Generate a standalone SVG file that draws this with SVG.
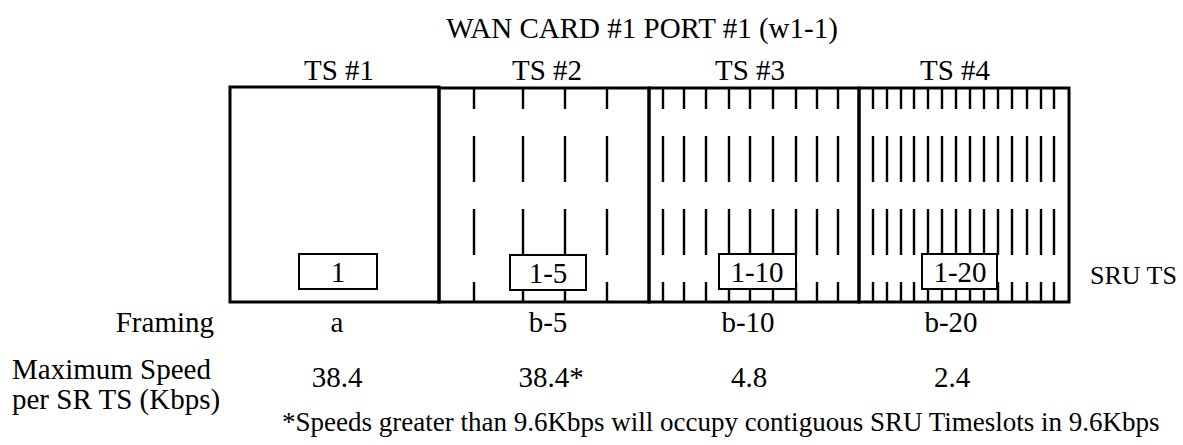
<svg xmlns="http://www.w3.org/2000/svg" width="1183" height="445" viewBox="0 0 1183 445">
<style>
text{font-family:"Liberation Serif","Times New Roman",serif;font-size:29px;fill:#000}
.c{text-anchor:middle}
.e{text-anchor:end}
.frame{fill:none;stroke:#000;stroke-width:3}
.dash{stroke:#000;stroke-width:2.4;stroke-dasharray:46 27;stroke-dashoffset:25}
.lbl{fill:#fff;stroke:#000;stroke-width:2}
</style>
<rect width="1183" height="445" fill="#fff"/>
<text id="title" class="c" x="642" y="38">WAN CARD #1 PORT #1 (w1-1)</text>

<g id="ts1">
  <text class="c" x="339" y="80">TS #1</text>
  <rect class="frame" x="230" y="87" width="209" height="215"/>
  <rect class="lbl" x="299" y="254" width="78" height="35"/>
  <text class="c" x="338" y="282">1</text>
</g>

<g id="ts2">
  <text class="c" x="547" y="80">TS #2</text>
  <g class="dash">
    <line x1="474" y1="88" x2="474" y2="302"/>
    <line x1="523" y1="88" x2="523" y2="302"/>
    <line x1="565" y1="88" x2="565" y2="302"/>
    <line x1="607" y1="88" x2="607" y2="302"/>
  </g>
  <path class="frame" d="M439,88 H649 V302 H439 Z"/>
  <rect class="lbl" x="510" y="255" width="76" height="35"/>
  <text class="c" x="548" y="283">1-5</text>
</g>

<g id="ts3">
  <text class="c" x="750" y="80">TS #3</text>
  <g class="dash">
    <line x1="663" y1="88" x2="663" y2="302"/>
    <line x1="684" y1="88" x2="684" y2="302"/>
    <line x1="706" y1="88" x2="706" y2="302"/>
    <line x1="729" y1="88" x2="729" y2="302"/>
    <line x1="750" y1="88" x2="750" y2="302"/>
    <line x1="773" y1="88" x2="773" y2="302"/>
    <line x1="796" y1="88" x2="796" y2="302"/>
    <line x1="817" y1="88" x2="817" y2="302"/>
    <line x1="838" y1="88" x2="838" y2="302"/>
  </g>
  <path class="frame" d="M649,88 H859 V302 H649 Z"/>
  <rect class="lbl" x="719" y="254" width="77" height="35"/>
  <text class="c" x="757" y="282">1-10</text>
</g>

<g id="ts4">
  <text class="c" x="955" y="80">TS #4</text>
  <g class="dash">
    <line x1="873" y1="88" x2="873" y2="302"/>
    <line x1="887" y1="88" x2="887" y2="302"/>
    <line x1="901" y1="88" x2="901" y2="302"/>
    <line x1="914" y1="88" x2="914" y2="302"/>
    <line x1="928" y1="88" x2="928" y2="302"/>
    <line x1="942" y1="88" x2="942" y2="302"/>
    <line x1="956" y1="88" x2="956" y2="302"/>
    <line x1="970" y1="88" x2="970" y2="302"/>
    <line x1="984" y1="88" x2="984" y2="302"/>
    <line x1="998" y1="88" x2="998" y2="302"/>
    <line x1="1012" y1="88" x2="1012" y2="302"/>
    <line x1="1027" y1="88" x2="1027" y2="302"/>
    <line x1="1041" y1="88" x2="1041" y2="302"/>
    <line x1="1054" y1="88" x2="1054" y2="302"/>
  </g>
  <path class="frame" d="M859,88 H1069 V302 H859 Z"/>
  <rect class="lbl" x="922" y="254" width="75" height="35"/>
  <text class="c" x="960" y="282">1-20</text>
</g>

<g id="connectors"></g>

<g id="sru">
  <text x="1090" y="284" style="font-size:26px">SRU TS</text>
</g>

<g id="framing">
  <text class="e" x="214" y="332">Framing</text>
  <text class="c" x="337" y="332">a</text>
  <text class="c" x="548" y="332">b-5</text>
  <text class="c" x="748" y="332">b-10</text>
  <text class="c" x="951" y="332">b-20</text>
</g>

<g id="speed">
  <text x="12" y="379">Maximum Speed</text>
  <text x="12" y="409">per SR TS (Kbps)</text>
  <text class="c" x="337" y="387">38.4</text>
  <text class="c" x="551" y="387">38.4*</text>
  <text class="c" x="749" y="387">4.8</text>
  <text class="c" x="952" y="387">2.4</text>
</g>

<text id="footnote" x="282" y="431" style="font-size:27px">*Speeds greater than 9.6Kbps will occupy contiguous SRU Timeslots in 9.6Kbps</text>
</svg>
